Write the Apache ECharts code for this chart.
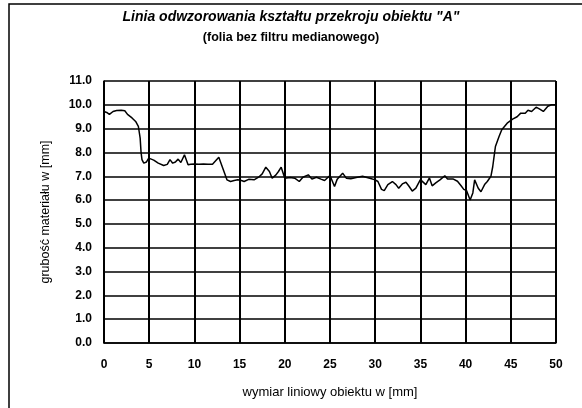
<!DOCTYPE html>
<html>
<head>
<meta charset="utf-8">
<script src="https://cdn.jsdelivr.net/npm/echarts@6/dist/echarts.min.js"></script>
<style>
  html, body { margin: 0; padding: 0; background: #fff; }
  #chart { width: 582px; height: 408px; }
</style>
</head>
<body>
<div id="chart"></div>
<script>
// wymiar liniowy [mm]
const xs = [0, 0.3, 0.6, 1.0, 1.4, 1.9, 2.3, 2.6, 3.1, 3.5, 3.8, 4.0, 4.1, 4.2, 4.4, 4.7, 4.95,
  5.5, 6.0, 6.6, 7.0, 7.3, 7.6, 7.9, 8.2, 8.5, 8.9, 9.3, 9.6, 10.0, 10.5, 11.0, 11.5, 12.0, 12.2,
  12.7, 13.2, 13.6, 14.0, 14.4, 14.8, 15.2, 15.5, 16.0, 16.6, 17.1, 17.5, 17.9, 18.3, 18.6, 19.0,
  19.3, 19.6, 20.0, 20.6, 21.1, 21.6, 22.0, 22.6, 23.0, 23.5, 24.0, 24.4, 25.0, 25.5, 25.8, 26.4,
  26.8, 27.3, 27.9, 28.6, 29.4, 30.0, 30.3, 30.7, 31.0, 31.4, 31.9, 32.3, 32.6, 33.0, 33.4, 33.7,
  34.1, 34.5, 35.0, 35.2, 35.6, 36.0, 36.3, 36.7, 37.2, 37.7, 38.0, 38.6, 39.1, 39.5, 39.8, 40.1,
  40.5, 40.8, 41.0, 41.4, 41.7, 42.1, 42.4, 42.8, 43.0, 43.2, 43.3, 43.7, 44.0, 44.6, 45.2, 45.7,
  46.1, 46.6, 46.9, 47.3, 47.8, 48.2, 48.6, 49.1, 49.5, 50.0];
// grubość materiału [mm]
const ys = [9.72, 9.68, 9.6, 9.72, 9.76, 9.77, 9.75, 9.6, 9.45, 9.3, 9.1, 8.6, 8.0, 7.7, 7.55, 7.6, 7.76,
  7.68, 7.55, 7.45, 7.5, 7.7, 7.55, 7.6, 7.72, 7.58, 7.9, 7.48, 7.5, 7.52, 7.5, 7.52, 7.5, 7.5, 7.42,
  7.8, 7.27, 6.85, 6.78, 6.82, 6.85, 6.82, 6.78, 6.87, 6.85, 6.96, 7.1, 7.38, 7.2, 6.92, 7.05,
  7.2, 7.38, 6.92, 6.95, 6.92, 6.78, 6.96, 7.06, 6.88, 6.96, 6.88, 6.82, 7.03, 6.57, 6.88, 7.13,
  6.92, 6.9, 6.95, 7.0, 6.92, 6.85, 6.78, 6.45, 6.4, 6.65, 6.78, 6.65, 6.5, 6.68, 6.75, 6.6,
  6.38, 6.5, 6.86, 6.93, 6.65, 6.93, 6.6, 6.72, 6.86, 7.02, 6.89, 6.89, 6.79, 6.6, 6.45, 6.4,
  6.0, 6.3, 6.85, 6.5, 6.35, 6.65, 6.78, 7.0, 7.4, 7.97, 8.25, 8.67, 8.95, 9.23, 9.4, 9.5,
  9.65, 9.65, 9.77, 9.72, 9.9, 9.82, 9.72, 9.94, 10.0, 10.0];

const tytul = 'Linia odwzorowania kształtu przekroju obiektu "A"';
const podtytul = '(folia bez filtru medianowego)';

let myChart = echarts.init(document.getElementById('chart'));

let option = {
  backgroundColor: '#fff',
  animation: false,
  graphic: [
    {
      // ramka wykresu (prawa i dolna krawędź poza obrazem)
      type: 'rect',
      shape: { x: 9, y: 4, width: 620, height: 430 },
      style: { fill: 'none', stroke: '#000', lineWidth: 1.5 }
    },
    {
      type: 'text', left: 'center', top: 10,
      style: { text: tytul, font: 'italic bold 14px "Liberation Sans", Arial', fill: '#000' }
    },
    {
      type: 'text', left: 'center', top: 31,
      style: { text: podtytul, font: 'bold 12.5px "Liberation Sans", Arial', fill: '#000' }
    }
  ],
  grid: { left: 104, right: 26, top: 81, bottom: 65 },
  xAxis: {
    type: 'value',
    min: 0, max: 50, interval: 5,
    name: 'wymiar liniowy obiektu w [mm]',
    nameLocation: 'middle',
    nameGap: 43,
    nameTextStyle: { fontFamily: 'Liberation Sans', fontSize: 13, color: '#000' },
    axisLine: { show: true, lineStyle: { color: '#000', width: 1.5 } },
    axisTick: { show: false },
    axisLabel: { margin: 16, fontFamily: 'Liberation Sans', fontWeight: 'bold', fontSize: 12, color: '#000' },
    splitLine: { show: true, lineStyle: { color: '#000', width: 2 } }
  },
  yAxis: {
    type: 'value',
    min: 0, max: 11, interval: 1,
    name: 'grubość materiału w [mm]',
    nameLocation: 'middle',
    nameGap: 52,
    nameTextStyle: { fontFamily: 'Liberation Sans', fontSize: 12.5, color: '#000' },
    axisLine: { show: true, lineStyle: { color: '#000', width: 1.5 } },
    axisTick: { show: false },
    axisLabel: {
      margin: 12, fontFamily: 'Liberation Sans', fontWeight: 'bold', fontSize: 12, color: '#000',
      formatter: v => v.toFixed(1)
    },
    splitLine: { show: true, lineStyle: { color: '#000', width: 1.5 } }
  },
  series: [
    {
      type: 'line',
      data: xs.map((x, i) => [x, ys[i]]),
      showSymbol: false,
      lineStyle: { color: '#000', width: 1.5 }
    }
  ]
};

myChart.setOption(option);
</script>
</body>
</html>
